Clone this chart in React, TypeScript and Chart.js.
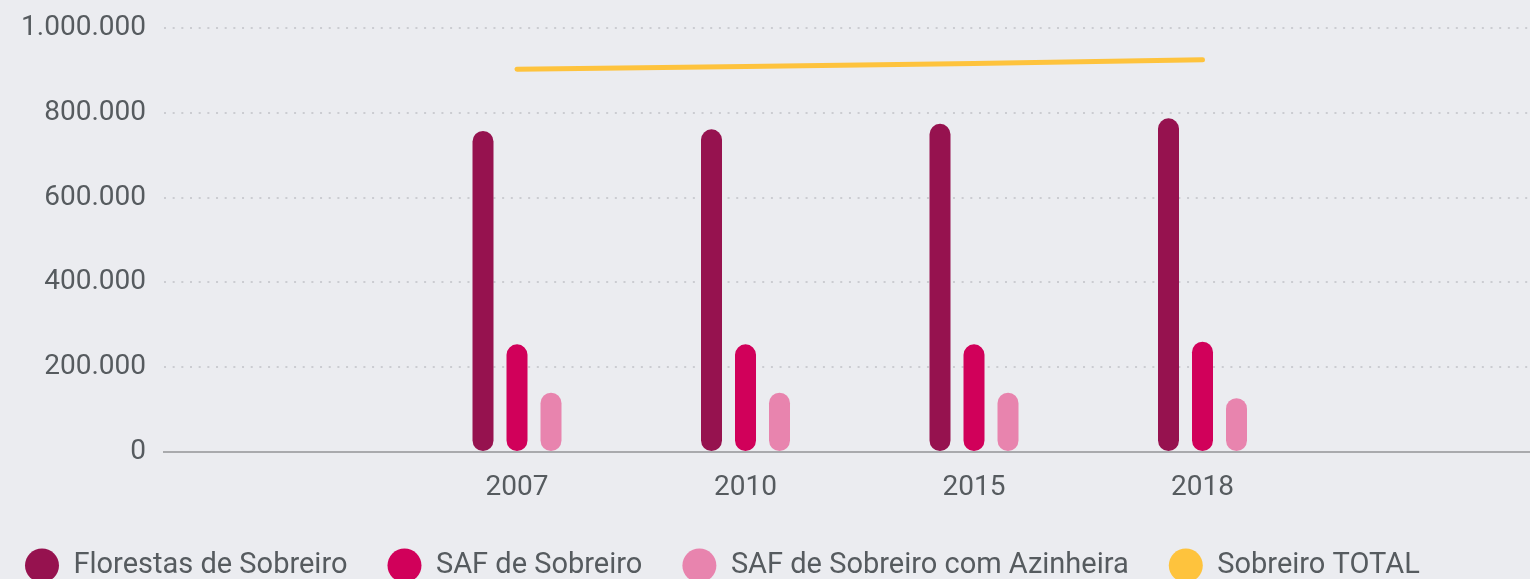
import React, { useEffect, useRef } from 'react';
import { Chart, registerables } from 'chart.js';

Chart.register(...registerables);

const years = ['2007', '2010', '2015', '2018'];
const florestasSobreiro = [757000, 761000, 774000, 787000];
const safSobreiro = [254000, 254000, 254000, 260000];
const safSobreiroAzinheira = [140000, 140000, 140000, 127000];
const sobreiroTotal = [903000, 909000, 916000, 925000];
const yTickValues = [0, 200000, 400000, 600000, 800000, 1000000];

const seriesNames = ['Florestas de Sobreiro', 'SAF de Sobreiro', 'SAF de Sobreiro com Azinheira', 'Sobreiro TOTAL'];
const seriesColors = ['#96124f', '#d1005a', '#e884ae', '#fec33d'];

const fmt = (v: number) => String(v).replace(/\B(?=(\d{3})+(?!\d))/g, '.');
const toXY = (arr: number[]) => arr.map((y, i) => ({ x: i, y }));

const TEXT = '#565b5f';
const FONT = 'Roboto';

const barStyle = {
  borderRadius: 11,
  borderSkipped: false,
  categoryPercentage: 0.4464,
  barPercentage: 0.6176,
};

export default function App() {
  const ref = useRef<HTMLCanvasElement | null>(null);

  useEffect(() => {
    if (!ref.current) return;
    const chart = new Chart(ref.current, {
      type: 'bar',
      data: {
        datasets: [
          { label: seriesNames[0], data: toXY(florestasSobreiro), backgroundColor: seriesColors[0], ...barStyle },
          { label: seriesNames[1], data: toXY(safSobreiro), backgroundColor: seriesColors[1], ...barStyle },
          { label: seriesNames[2], data: toXY(safSobreiroAzinheira), backgroundColor: seriesColors[2], ...barStyle },
          {
            type: 'line',
            label: seriesNames[3],
            data: toXY(sobreiroTotal),
            borderColor: seriesColors[3],
            backgroundColor: seriesColors[3],
            borderWidth: 5,
            borderCapStyle: 'round',
            borderJoinStyle: 'round',
            pointRadius: 0,
            pointHoverRadius: 0,
            tension: 0,
          } as any,
        ],
      },
      options: {
        animation: false,
        responsive: true,
        maintainAspectRatio: false,
        layout: { padding: { top: 28, left: 0, right: 0, bottom: 0 } },
        plugins: {
          tooltip: { enabled: false },
          legend: {
            display: true,
            position: 'bottom',
            align: 'start',
            labels: {
              usePointStyle: true,
              pointStyle: 'circle',
              pointStyleWidth: 34,
              boxHeight: 24,
              padding: 40,
              color: TEXT,
              font: { family: FONT, size: 29 },
              generateLabels: (c: any) =>
                (Chart.defaults.plugins.legend.labels.generateLabels as any)(c).map((l: any) => ({
                  ...l,
                  lineWidth: 0,
                  pointStyle: 'circle',
                })),
            },
          },
        },
        scales: {
          x: {
            type: 'linear',
            offset: false,
            min: -1.5449,
            max: 4.5164,
            afterBuildTicks: (axis: any) => {
              axis.ticks = years.map((_, i) => ({ value: i }));
            },
            afterFit: (axis: any) => {
              axis.height = 59;
              axis.paddingLeft = 0;
              axis.paddingRight = 0;
            },
            ticks: {
              color: TEXT,
              font: { family: FONT, size: 28 },
              padding: 19,
              maxRotation: 0,
              autoSkip: false,
              callback: (v: any) => years[v as number] ?? '',
            },
            grid: { display: false, drawTicks: false },
            border: { display: true, color: '#a9aaad', width: 2 },
          },
          y: {
            type: 'linear',
            min: 0,
            max: 1000000,
            afterBuildTicks: (axis: any) => {
              axis.ticks = yTickValues.map((v) => ({ value: v }));
            },
            afterFit: (axis: any) => {
              axis.width = 179;
              axis.paddingTop = 0;
              axis.paddingBottom = 0;
            },
            ticks: {
              color: TEXT,
              font: { family: FONT, size: 28 },
              padding: 18,
              callback: (v: any) => fmt(Number(v)),
            },
            grid: {
              drawTicks: false,
              lineWidth: 2,
              color: (ctx: any) => (ctx.tick && ctx.tick.value === 0 ? 'rgba(0,0,0,0)' : '#cbccd1'),
            },
            border: { display: false, dash: [2, 6.67] },
          },
        },
      } as any,
    });
    return () => chart.destroy();
  }, []);

  return (
    <div
      style={{
        position: 'fixed',
        left: 0,
        top: 0,
        width: 1530,
        height: 579,
        overflow: 'hidden',
        background: '#ebecf0',
      }}
    >
      <div style={{ position: 'absolute', left: -15, top: 0, width: 1564, height: 590 }}>
        <canvas ref={ref} />
      </div>
    </div>
  );
}
